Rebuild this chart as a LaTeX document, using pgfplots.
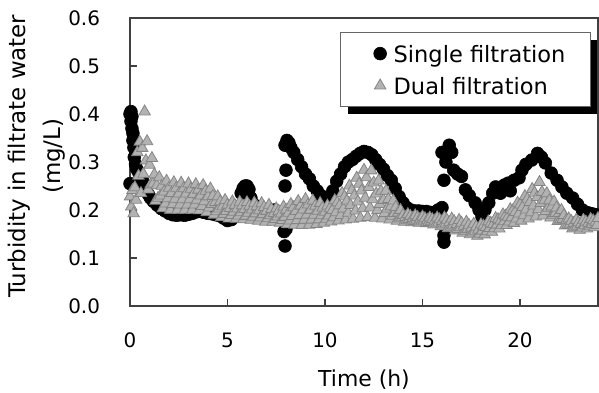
\documentclass[border=0pt]{standalone}
\usepackage{fontspec}
\setmainfont{DejaVu Sans}
\usepackage{pgfplots}
\pgfplotsset{compat=1.18}
\usetikzlibrary{shadows}
\begin{document}
\begin{tikzpicture}
\begin{axis}[
  scale only axis, width=234bp, height=144bp,
  xmin=0, xmax=24, ymin=0, ymax=0.6,
  clip=false,
  xtick={0,5,10,15,20}, ytick={0,0.1,0.2,0.3,0.4,0.5,0.6},
  /pgf/number format/assume math mode=true,
  yticklabel style={/pgf/number format/fixed, /pgf/number format/fixed zerofill, /pgf/number format/precision=1, xshift=-11.5bp},
  xticklabel style={yshift=-10bp},
  tick label style={font=\fontsize{10}{12}\selectfont},
  tick align=inside, tick pos=left, major tick length=3.5bp,
  axis line style={black!75, line width=0.6bp},
  every tick/.style={black!75, line width=0.6bp},
  xlabel={Time (h)},
  xlabel style={at={(rel axis cs:0.5,-0.2778)}, anchor=base, inner sep=0pt, font=\fontsize{11}{13}\selectfont},
  ylabel={Turbidity in filtrate water\\(mg/L)},
  ylabel style={at={(rel axis cs:-0.199,0.52)}, anchor=center, align=center, font=\fontsize{11.5}{17.5}\selectfont},
  legend style={at={(rel axis cs:0.985,0.951)}, anchor=north east, draw=black!60, line width=0.5bp, fill=white,
    inner xsep=12bp, inner ysep=2.5bp, row sep=0pt, column sep=2.8bp, font=\fontsize{11.3}{13}\selectfont,
    nodes={inner xsep=0.5bp, inner ysep=2.75bp, text height=9.45bp, text depth=1.05bp},
    drop shadow={shadow xshift=3.5bp, shadow yshift=-3.5bp, fill=black, opacity=1}},
  legend cell align=left,
  legend image code/.code={\path (-7.5bp,0bp) (3.2bp,0bp); \draw[#1] plot coordinates {(0bp,0bp)};},
]
\addplot[only marks, mark=*, mark size=3.2bp, mark options={fill=black, draw=black, line width=0.3bp}]
coordinates {
(0,0.255) (0,0.40) (0.05,0.405) (0.05,0.385) (0.1,0.395) (0.1,0.37) (0.15,0.36) (0.15,0.345)
(0.2,0.33) (0.22,0.31) (0.28,0.295) (0.35,0.285) (0.45,0.278) (0.55,0.27) (0.65,0.26) (0.75,0.25)
(0.85,0.24) (0.95,0.232) (1.05,0.225) (1.2,0.218) (1.4,0.21) (1.6,0.203) (1.8,0.198) (2.0,0.193)
(2.2,0.19) (2.4,0.189) (2.6,0.19) (2.8,0.189) (3.0,0.191) (3.2,0.193) (3.4,0.196) (3.6,0.197)
(3.8,0.195) (4.0,0.193) (4.2,0.192) (4.4,0.19) (4.6,0.188) (4.8,0.183) (5.0,0.178) (5.2,0.18)
(5.4,0.19) (5.6,0.205) (5.7,0.235) (5.8,0.245) (5.9,0.25) (6.0,0.25) (6.1,0.243) (6.2,0.225)
(6.4,0.21) (6.6,0.2) (6.8,0.185) (7.0,0.195) (7.2,0.2) (7.4,0.2) (7.6,0.195) (7.8,0.19)
(7.9,0.155) (7.95,0.125) (8.0,0.16) (7.95,0.25) (8.0,0.283) (7.95,0.335) (8.05,0.345) (8.15,0.34)
(8.25,0.33) (8.4,0.32) (8.6,0.305) (8.8,0.29) (9.0,0.275) (9.2,0.265) (9.4,0.25) (9.6,0.24)
(9.8,0.23) (10.0,0.222) (10.2,0.225) (10.4,0.24) (10.6,0.26) (10.8,0.275) (11.0,0.29) (11.2,0.3)
(11.4,0.305) (11.6,0.312) (11.8,0.318) (12.0,0.322) (12.2,0.32) (12.4,0.315) (12.6,0.305) (12.8,0.295)
(13.0,0.285) (13.2,0.272) (13.4,0.262) (13.6,0.245) (13.8,0.228) (14.0,0.215) (14.2,0.205) (14.4,0.2)
(14.6,0.198) (14.8,0.198) (15.0,0.197) (15.2,0.197) (15.4,0.195) (15.6,0.195) (15.8,0.2) (16.0,0.205)
(16.1,0.133) (16.1,0.147) (16.1,0.262) (16.0,0.32) (16.2,0.3) (16.37,0.335) (16.5,0.32) (16.6,0.283)
(16.8,0.275) (17.0,0.27) (17.2,0.242) (17.4,0.23) (17.7,0.215) (17.9,0.2) (18.05,0.186) (18.2,0.2)
(18.4,0.215) (18.6,0.235) (18.75,0.248) (19.0,0.245) (19.0,0.235) (19.2,0.252) (19.4,0.256) (19.5,0.24)
(19.7,0.262) (19.95,0.267) (20.1,0.283) (20.3,0.295) (20.6,0.304) (20.9,0.318) (21.1,0.31) (21.3,0.298)
(21.6,0.277) (21.9,0.262) (22.15,0.248) (22.4,0.235) (22.7,0.225) (22.95,0.212) (23.2,0.2) (23.5,0.194)
(23.7,0.192) (23.9,0.19)
};
\addlegendentry{Single filtration}
\addplot[only marks, mark=triangle*, mark size=3.3bp, mark options={fill=black!30, draw=black!48, line width=0.4bp}]
coordinates {
(0,0.228) (0.0625,0.207) (0.125,0.241) (0.1875,0.193) (0.25,0.247) (0.3125,0.221) (0.375,0.32) (0.4375,0.271)
(0.5,0.342) (0.5625,0.235) (0.625,0.329) (0.6875,0.275) (0.75,0.405) (0.8125,0.303) (0.875,0.343) (0.9375,0.2425)
(1.0,0.294) (1.0625,0.253) (1.125,0.308) (1.1875,0.255) (1.25,0.274) (1.3125,0.219) (1.375,0.251) (1.4375,0.225)
(1.5,0.268) (1.5625,0.23) (1.625,0.25) (1.6875,0.2035) (1.75,0.238) (1.8125,0.213) (1.875,0.2606) (1.9375,0.224)
(2.0,0.246) (2.0625,0.2) (2.125,0.235) (2.1875,0.212) (2.25,0.2575) (2.3125,0.223) (2.375,0.246) (2.4375,0.2)
(2.5,0.234) (2.5625,0.211) (2.625,0.2565) (2.6875,0.222) (2.75,0.245) (2.8125,0.2) (2.875,0.234) (2.9375,0.211)
(3.0,0.255) (3.0625,0.222) (3.125,0.244) (3.1875,0.2) (3.25,0.233) (3.3125,0.211) (3.375,0.2535) (3.4375,0.221)
(3.5,0.242) (3.5625,0.199) (3.625,0.23) (3.6875,0.208) (3.75,0.2515) (3.8125,0.218) (3.875,0.2395) (3.9375,0.195)
(4.0,0.228) (4.0625,0.205) (4.125,0.2445) (4.1875,0.212) (4.25,0.229) (4.3125,0.19) (4.375,0.216) (4.4375,0.197)
(4.5,0.228) (4.5625,0.2026) (4.625,0.2176) (4.6875,0.1851) (4.75,0.2076) (4.8125,0.1915) (4.875,0.2205) (4.9375,0.1973)
(5.0,0.2108) (5.0625,0.182) (5.125,0.2036) (5.1875,0.189) (5.25,0.2175) (5.3125,0.196) (5.375,0.2103) (5.4375,0.1814)
(5.5,0.2026) (5.5625,0.188) (5.625,0.2168) (5.6875,0.195) (5.75,0.2093) (5.8125,0.1804) (5.875,0.2017) (5.9375,0.1874)
(6.0,0.216) (6.0625,0.194) (6.125,0.2084) (6.1875,0.1791) (6.25,0.2007) (6.3125,0.1857) (6.375,0.2149) (6.4375,0.1926)
(6.5,0.2071) (6.5625,0.1772) (6.625,0.1992) (6.6875,0.1841) (6.75,0.2138) (6.8125,0.191) (6.875,0.2058) (6.9375,0.1753)
(7.0,0.1978) (7.0625,0.1824) (7.125,0.2105) (7.1875,0.1887) (7.25,0.2014) (7.3125,0.175) (7.375,0.1933) (7.4375,0.1809)
(7.5,0.203) (7.5625,0.186) (7.625,0.1982) (7.6875,0.1731) (7.75,0.1923) (7.8125,0.1787) (7.875,0.2068) (7.9375,0.1853)
(8.0,0.2004) (8.0625,0.1699) (8.125,0.1939) (8.1875,0.1779) (8.25,0.2122) (8.3125,0.1869) (8.375,0.2053) (8.4375,0.169)
(8.5,0.1973) (8.5625,0.1785) (8.625,0.2184) (8.6875,0.1889) (8.75,0.2087) (8.8125,0.1682) (8.875,0.2008) (8.9375,0.179)
(9.0,0.2225) (9.0625,0.19) (9.125,0.2109) (9.1875,0.1689) (9.25,0.1999) (9.3125,0.1795) (9.375,0.2195) (9.4375,0.1895)
(9.5,0.2084) (9.5625,0.1704) (9.625,0.198) (9.6875,0.1801) (9.75,0.2144) (9.8125,0.1887) (9.875,0.2046) (9.9375,0.1731)
(10.0,0.1959) (10.0625,0.1812) (10.125,0.2091) (10.1875,0.1882) (10.25,0.2031) (10.3125,0.1756) (10.375,0.1996) (10.4375,0.1845)
(10.5,0.22) (10.5625,0.195) (10.625,0.2155) (10.6875,0.1778) (10.75,0.2092) (10.8125,0.1892) (10.875,0.235) (10.9375,0.2025)
(11.0,0.2279) (11.0625,0.1798) (11.125,0.2191) (11.1875,0.1939) (11.25,0.2505) (11.3125,0.2099) (11.375,0.2411) (11.4375,0.1815)
(11.5,0.2296) (11.5625,0.1985) (11.625,0.2669) (11.6875,0.2175) (11.75,0.2544) (11.8125,0.1833) (11.875,0.2401) (11.9375,0.2031)
(12.0,0.2833) (12.0625,0.225) (12.125,0.268) (12.1875,0.1849) (12.25,0.2474) (12.3125,0.2047) (12.375,0.2821) (12.4375,0.222)
(12.5,0.2569) (12.5625,0.1836) (12.625,0.2341) (12.6875,0.1993) (12.75,0.261) (12.8125,0.2124) (12.875,0.2396) (12.9375,0.1817)
(13.0,0.2207) (13.0625,0.1935) (13.125,0.2399) (13.1875,0.2028) (13.25,0.2223) (13.3125,0.1799) (13.375,0.2074) (13.4375,0.1877)
(13.5,0.2194) (13.5625,0.1933) (13.625,0.2058) (13.6875,0.1773) (13.75,0.1944) (13.8125,0.1817) (13.875,0.1996) (13.9375,0.1838)
(14.0,0.1894) (14.0625,0.175) (14.125,0.1851) (14.1875,0.1782) (14.25,0.1913) (14.3125,0.1809) (14.375,0.1874) (14.4375,0.174)
(14.5,0.1832) (14.5625,0.1769) (14.625,0.1887) (14.6875,0.1793) (14.75,0.1849) (14.8125,0.173) (14.875,0.1813) (14.9375,0.1756)
(15.0,0.1861) (15.0625,0.1778) (15.125,0.1826) (15.1875,0.1722) (15.25,0.1794) (15.3125,0.1743) (15.375,0.184) (15.4375,0.1759)
(15.5,0.1808) (15.5625,0.1694) (15.625,0.1777) (15.6875,0.1713) (15.75,0.184) (15.8125,0.1737) (15.875,0.1802) (15.9375,0.1656)
(16.0,0.1764) (16.0625,0.1695) (16.125,0.184) (16.1875,0.1715) (16.25,0.1794) (16.3125,0.1616) (16.375,0.1739) (16.4375,0.1645)
(16.5,0.1818) (16.5625,0.1676) (16.625,0.1762) (16.6875,0.1569) (16.75,0.1704) (16.8125,0.1602) (16.875,0.1789) (16.9375,0.1637)
(17.0,0.173) (17.0625,0.1524) (17.125,0.1667) (17.1875,0.1562) (17.25,0.1752) (17.3125,0.1599) (17.375,0.169) (17.4375,0.1491)
(17.5,0.1629) (17.5625,0.1527) (17.625,0.171) (17.6875,0.1562) (17.75,0.165) (17.8125,0.1458) (17.875,0.1591) (17.9375,0.1501)
(18.0,0.1697) (18.0625,0.1566) (18.125,0.167) (18.1875,0.1488) (18.25,0.1642) (18.3125,0.1554) (18.375,0.1759) (18.4375,0.1621)
(18.5,0.173) (18.5625,0.1542) (18.625,0.1705) (18.6875,0.1616) (18.75,0.183) (18.8125,0.1691) (18.875,0.1804) (18.9375,0.1612)
(19.0,0.1778) (19.0625,0.1687) (19.125,0.1905) (19.1875,0.1763) (19.25,0.1879) (19.3125,0.1682) (19.375,0.1856) (19.4375,0.1756)
(19.5,0.2013) (19.5625,0.1842) (19.625,0.1988) (19.6875,0.1728) (19.75,0.1956) (19.8125,0.182) (19.875,0.2148) (19.9375,0.1924)
(20.0,0.2109) (20.0625,0.1775) (20.125,0.2057) (20.1875,0.1885) (20.25,0.2288) (20.3125,0.2008) (20.375,0.2232) (20.4375,0.1818)
(20.5,0.2161) (20.5625,0.1947) (20.625,0.2435) (20.6875,0.2091) (20.75,0.2357) (20.8125,0.186) (20.875,0.2265) (20.9375,0.201)
(21.0,0.258) (21.0625,0.2143) (21.125,0.2373) (21.1875,0.188) (21.25,0.22) (21.3125,0.1977) (21.375,0.2346) (21.4375,0.2042)
(21.5,0.22) (21.5625,0.1838) (21.625,0.207) (21.6875,0.1895) (21.75,0.2173) (21.8125,0.1936) (21.875,0.2048) (21.9375,0.1767)
(22.0,0.1934) (22.0625,0.1794) (22.125,0.1997) (22.1875,0.1811) (22.25,0.1889) (22.3125,0.1675) (22.375,0.1791) (22.4375,0.1686)
(22.5,0.182) (22.5625,0.17) (22.625,0.1772) (22.6875,0.1611) (22.75,0.1722) (22.8125,0.1638) (22.875,0.179) (22.9375,0.1666)
(23.0,0.174) (23.0625,0.1584) (23.125,0.1707) (23.1875,0.1632) (23.25,0.1793) (23.3125,0.168) (23.375,0.1757) (23.4375,0.1611)
(23.5,0.1729) (23.5625,0.1657) (23.625,0.1811) (23.6875,0.1702) (23.75,0.1781) (23.8125,0.1637) (23.875,0.1751) (23.9375,0.1682)
(24.0,0.183)
};
\addlegendentry{Dual filtration}
\end{axis}
\pgfresetboundingbox
\path[use as bounding box] (-65bp,-43.5bp) rectangle (234.5bp,153bp);
\end{tikzpicture}
\end{document}
